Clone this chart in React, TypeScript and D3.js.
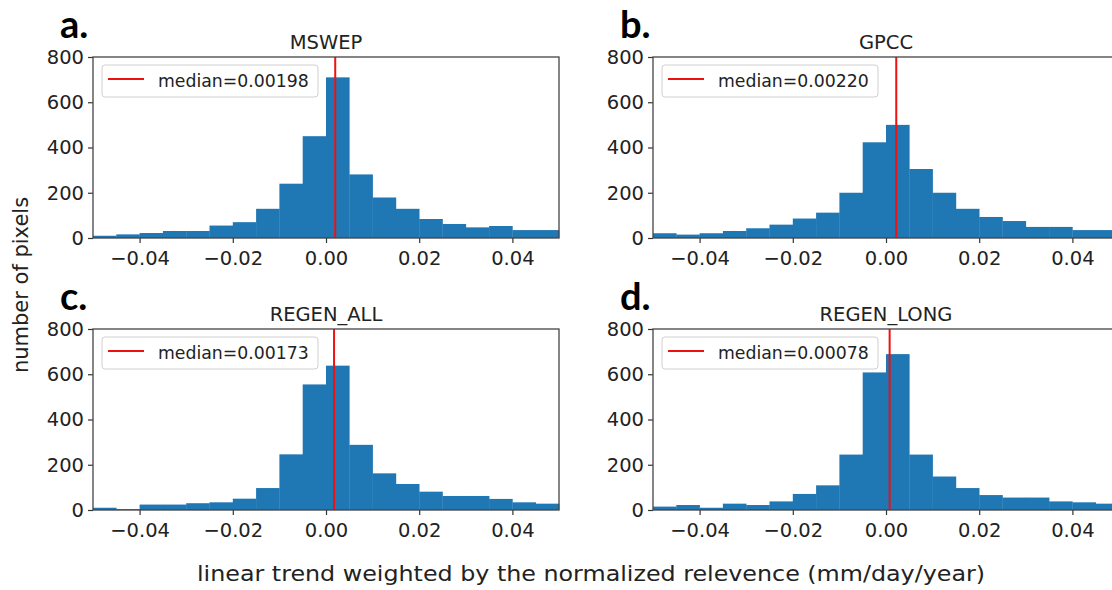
import React, { useRef, useEffect } from "react";
import * as d3 from "d3";

// histogram counts per 0.005-wide bin, from -0.05 to 0.05
const mswep = [10, 16, 22, 31, 31, 55, 70, 129, 240, 450, 710, 281, 179, 129, 84, 62, 47, 53, 35, 35];
const gpcc = [21, 15, 21, 31, 43, 59, 86, 112, 200, 423, 500, 305, 200, 129, 93, 75, 49, 49, 35, 35];
const regenAll = [10, 4, 24, 24, 30, 34, 50, 97, 246, 555, 638, 288, 162, 115, 81, 62, 62, 49, 34, 28];
const regenLong = [15, 22, 10, 28, 22, 38, 71, 109, 245, 608, 689, 245, 148, 97, 66, 55, 55, 38, 34, 28];

const titles = ["MSWEP", "GPCC", "REGEN_ALL", "REGEN_LONG"];
const letters = ["a.", "b.", "c.", "d."];
const medians = [0.00198, 0.0022, 0.00173, 0.00078];
const xTicks = [-0.04, -0.02, 0, 0.02, 0.04];
const yTicks = [0, 200, 400, 600, 800];

const binEdges = d3.range(0, 21).map((i) => -0.05 + i * 0.005);

const FONT = "DejaVu Sans, sans-serif";

function App() {
    const svgRef = useRef(null);

    useEffect(() => {
        const svg = d3.select(svgRef.current);
        svg.selectAll("*").remove();

        const series = [mswep, gpcc, regenAll, regenLong];
        const origins = [
            { x: 93, y: 57 },
            { x: 653, y: 57 },
            { x: 93, y: 329 },
            { x: 653, y: 329 },
        ];
        const w = 466;
        const h = 181;

        const xScale = d3.scaleLinear().domain([-0.05, 0.05]).range([0, w]);
        const yScale = d3.scaleLinear().domain([0, 800]).range([h, 0]);

        series.forEach((counts, k) => {
            const o = origins[k];
            const g = svg.append("g").attr("transform", `translate(${o.x},${o.y})`);

            g.selectAll("rect.bar")
                .data(counts)
                .enter()
                .append("rect")
                .attr("class", "bar")
                .attr("x", (d, i) => xScale(binEdges[i]))
                .attr("width", (d, i) => xScale(binEdges[i + 1]) - xScale(binEdges[i]) + 0.3)
                .attr("y", (d) => yScale(d))
                .attr("height", (d) => h - yScale(d))
                .attr("fill", "#1f77b4");

            g.append("line")
                .attr("x1", xScale(medians[k]))
                .attr("x2", xScale(medians[k]))
                .attr("y1", 0)
                .attr("y2", h)
                .attr("stroke", "#ee1111")
                .attr("stroke-width", 2);

            const xAxis = d3.axisBottom(xScale)
                .tickValues(xTicks)
                .tickSize(5)
                .tickPadding(4)
                .tickFormat((d) => d3.format(".2f")(d).replace("-", "\u2212"));
            const ax = g.append("g").attr("transform", `translate(0,${h})`).call(xAxis);
            ax.select(".domain").remove();

            const yAxis = d3.axisLeft(yScale).tickValues(yTicks).tickSize(5).tickPadding(4);
            const ay = g.append("g").call(yAxis);
            ay.select(".domain").remove();

            [ax, ay].forEach((a) => {
                a.selectAll("text")
                    .attr("font-family", FONT)
                    .attr("font-size", 19.5)
                    .attr("fill", "#222");
                a.selectAll("line").attr("stroke", "#333").attr("stroke-width", 1.2);
            });
            ax.selectAll("text").attr("dy", "0.9em");

            g.append("rect")
                .attr("width", w)
                .attr("height", h)
                .attr("fill", "none")
                .attr("stroke", "#444")
                .attr("stroke-width", 1.3);

            // legend
            const lg = g.append("g").attr("transform", "translate(9,8)");
            lg.append("rect")
                .attr("width", 216)
                .attr("height", 32)
                .attr("rx", 3)
                .attr("fill", "rgba(255,255,255,0.8)")
                .attr("stroke", "#d0d0d0");
            lg.append("line")
                .attr("x1", 6)
                .attr("x2", 42)
                .attr("y1", 14)
                .attr("y2", 14)
                .attr("stroke", "#ee1111")
                .attr("stroke-width", 2);
            lg.append("text")
                .attr("x", 56)
                .attr("y", 22)
                .attr("font-family", FONT)
                .attr("font-size", 17.3)
                .attr("fill", "#222")
                .text(`median=${d3.format(".5f")(medians[k])}`);

            g.append("text")
                .attr("x", w / 2)
                .attr("y", -8)
                .attr("text-anchor", "middle")
                .attr("font-family", FONT)
                .attr("font-size", 19.5)
                .attr("fill", "#222")
                .text(titles[k]);

            g.append("text")
                .attr("x", -33)
                .attr("y", -19)
                .attr("font-family", "Lato, Open Sans, sans-serif")
                .attr("font-weight", "bold")
                .attr("font-size", 38)
                .attr("fill", "#000")
                .text(letters[k]);
        });

        svg.append("text")
            .attr("transform", "translate(28,285) rotate(-90)")
            .attr("text-anchor", "middle")
            .attr("font-family", FONT)
            .attr("font-size", 21)
            .attr("fill", "#222")
            .text("number of pixels");

        svg.append("text")
            .attr("x", 591)
            .attr("y", 581)
            .attr("text-anchor", "middle")
            .attr("font-family", FONT)
            .attr("font-size", 22)
            .attr("fill", "#222")
            .attr("textLength", 788)
            .attr("lengthAdjust", "spacingAndGlyphs")
            .text("linear trend weighted by the normalized relevence (mm/day/year)");
    }, []);

    return (
        <svg
            ref={svgRef}
            width={1112}
            height={590}
            style={{ position: "absolute", left: 0, top: 0, background: "#fff" }}
        ></svg>
    );
}

export default App;
